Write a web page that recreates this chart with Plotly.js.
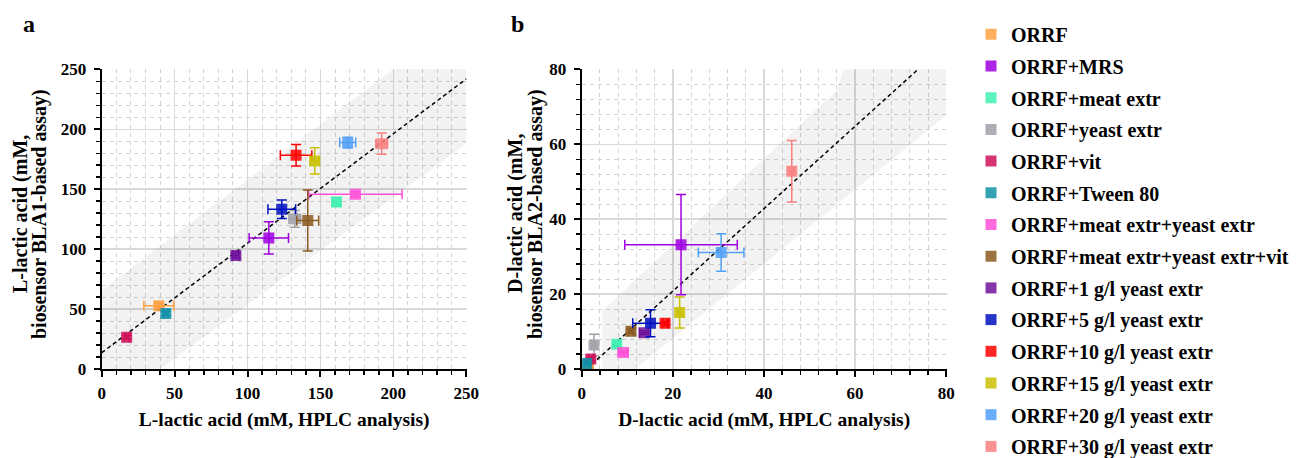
<!DOCTYPE html>
<html>
<head>
<meta charset="utf-8">
<script src="https://cdn.plot.ly/plotly-3.0.1.min.js"></script>
<style>html,body{margin:0;padding:0;background:#fff;}</style>
</head>
<body>
<div id="chart" style="width:1308px;height:458px;"></div>
<script>
// ---- data ----
const groups = ["ORRF","ORRF+MRS","ORRF+meat extr","ORRF+yeast extr","ORRF+vit","ORRF+Tween 80",
  "ORRF+meat extr+yeast extr","ORRF+meat extr+yeast extr+vit","ORRF+1 g/l yeast extr",
  "ORRF+5 g/l yeast extr","ORRF+10 g/l yeast extr","ORRF+15 g/l yeast extr",
  "ORRF+20 g/l yeast extr","ORRF+30 g/l yeast extr"];
const colors = ["#FFA040","#A000E0","#40F0B0","#A0A0A8","#D0105A","#1090A8",
  "#FF50D8","#8B5A1E","#70109A","#0010C0","#FF0000","#C8C000","#50A0F8","#F88080"];

// panel a: L-lactic acid
const aX    = [39.2, 114.6, 161.0, 132.4, 17.1, 44.0, 174.0, 141.3, 92.0, 123.5, 133.3, 146.1, 168.7, 192.0];
const aY    = [52.8, 109.4, 139.4, 125.3, 26.4, 46.4, 145.8, 123.9, 94.7, 133.3, 178.3, 173.6, 188.9, 188.0];
const aXerr = [10.3, 13.5, 2.5, 4.0, 1.5, 1.5, 32.0, 7.5, 2.0, 9.5, 10.8, 3.0, 5.5, 4.0];
const aYerr = [2.0, 13.5, 3.5, 7.0, 1.5, 2.0, 2.0, 25.5, 2.0, 7.8, 9.0, 11.0, 4.5, 8.8];

// panel b: D-lactic acid
const bX    = [1.5, 21.8, 7.7, 2.7, 2.0, 1.1, 9.1, 10.8, 13.7, 15.1, 18.3, 21.5, 30.6, 46.1];
const bY    = [0.5, 33.2, 6.6, 6.4, 2.7, 1.5, 4.4, 10.1, 9.7, 12.2, 12.2, 15.1, 31.1, 52.8];
const bXerr = [1.0, 12.35, 0.5, 0.5, 0.5, 0.5, 1.1, 0.5, 1.0, 3.9, 0.5, 0.5, 5.0, 0.5];
const bYerr = [0.5, 13.4, 0.5, 2.9, 0.5, 0.5, 0.5, 0.5, 0.5, 3.6, 0.5, 4.15, 5.0, 8.2];

// fit lines and bands
const aLineX = [0, 250];
const aLineY = [13.6, 242];
const aBandX = [0, 0, 199.7, 250, 250, 40];
const aBandY = [0, 65.8, 250, 250, 188, 0];
const bLineX = [1.1, 73.8];
const bLineY = [0, 80];
const bBandX = [4.5, 4.5, 56, 57.5, 80, 80, 11.7];
const bBandY = [0, 15.5, 74.5, 80, 80, 67.7, 0];

// axis titles
const aXTitle = "L-lactic acid (mM, HPLC analysis)";
const aYTitle = ["L-lactic acid (mM,", "biosensor BLA1-based assay)"];
const bXTitle = "D-lactic acid (mM, HPLC analysis)";
const bYTitle = ["D-lactic acid (mM,", "biosensor BLA2-based assay)"];

// ---- traces ----
const FONT = "Liberation Serif";
const traces = [];
traces.push({x: aBandX, y: aBandY, xaxis:'x', yaxis:'y', mode:'lines', fill:'toself',
  fillcolor:'rgba(0,0,0,0.05)', line:{width:0, color:'rgba(0,0,0,0)'}, showlegend:false, hoverinfo:'skip'});
traces.push({x: bBandX, y: bBandY, xaxis:'x2', yaxis:'y2', mode:'lines', fill:'toself',
  fillcolor:'rgba(0,0,0,0.05)', line:{width:0, color:'rgba(0,0,0,0)'}, showlegend:false, hoverinfo:'skip'});
traces.push({x: aLineX, y: aLineY, xaxis:'x', yaxis:'y', mode:'lines',
  line:{color:'#000', width:1.5, dash:'4px,3px'}, showlegend:false, hoverinfo:'skip'});
traces.push({x: bLineX, y: bLineY, xaxis:'x2', yaxis:'y2', mode:'lines',
  line:{color:'#000', width:1.5, dash:'4px,3px'}, showlegend:false, hoverinfo:'skip'});

groups.forEach((g, i) => {
  traces.push({mode:'markers', marker:{symbol:'square', size:11, color:colors[i], opacity:0.85},
    legendgroup:'g'+i, name:g, x:[aX[i]], y:[aY[i]], xaxis:'x', yaxis:'y', showlegend:true,
    error_x:{type:'data', array:[aXerr[i]], color:colors[i], thickness:1.5, width:5},
    error_y:{type:'data', array:[aYerr[i]], color:colors[i], thickness:1.5, width:5}});
});
groups.forEach((g, i) => {
  traces.push({mode:'markers', marker:{symbol:'square', size:11, color:colors[i], opacity:0.85},
    legendgroup:'g'+i, name:g, x:[bX[i]], y:[bY[i]], xaxis:'x2', yaxis:'y2', showlegend:false,
    error_x:{type:'data', array:[bXerr[i]], color:colors[i], thickness:1.5, width:5},
    error_y:{type:'data', array:[bYerr[i]], color:colors[i], thickness:1.5, width:5}});
});

function axis(domain, range, dtick, minorDtick, title, anchor, isY) {
  const ax = {
    domain: domain, range: range, anchor: anchor, dtick: dtick, tick0: 0,
    ticks:'outside', ticklen:6, tickwidth:2, tickcolor:'#000',
    showline:true, linewidth:2, linecolor:'#000', zeroline:false,
    showgrid:true, gridcolor:'#d9d9d9', gridwidth:1.5,
    minor:{dtick:minorDtick, tick0:0, ticks:'outside', ticklen:4, tickwidth:1.5, tickcolor:'#000',
      showgrid:true, gridcolor:'#d4d4d4', griddash:'4px,4px', gridwidth:1},
    tickfont:{family:FONT, size:17, color:'#000', weight:'bold'},
    ticklabelstandoff: isY ? 4 : 2,
    fixedrange:true
  };
  if (title) ax.title = {text:title, font:{family:FONT, size:19.5, color:'#000', weight:'bold'}, standoff: 10};
  return ax;
}

function yTitleAnn(lines, xs) {
  return lines.map((t, k) => ({text:t, xref:'paper', yref:'paper', x:xs[k]/1308, y:1-214/458,
    xanchor:'center', yanchor:'middle', textangle:-90, showarrow:false,
    font:{family:FONT, size:20, color:'#000', weight:'bold'}}));
}

const yDom = [(458-369)/458, (458-69)/458];
const layout = {
  width:1308, height:458,
  margin:{l:0, r:0, t:0, b:0, autoexpand:false},
  paper_bgcolor:'#fff', plot_bgcolor:'#fff',
  font:{family:FONT, color:'#000'},
  xaxis: axis([101.7/1308, 466.7/1308], [0,250.3], 50, 10, aXTitle, 'y', false),
  yaxis: axis(yDom, [0,250.3], 50, 10, null, 'x', true),
  xaxis2: axis([581.7/1308, 946.7/1308], [0,80.1], 20, 4, bXTitle, 'y2', false),
  yaxis2: axis(yDom, [0,80.1], 20, 4, null, 'x2', true),
  showlegend:true,
  legend:{x:971/1308, xanchor:'left', y:1-14.8/458, yanchor:'top', traceorder:'grouped', tracegroupgap:2.7,
    font:{family:FONT, size:20, color:'#000', weight:'bold'}, bgcolor:'rgba(0,0,0,0)', borderwidth:0},
  annotations:[
    {text:'a', xref:'paper', yref:'paper', x:29/1308, y:1-24/458, xanchor:'center', yanchor:'middle',
      showarrow:false, font:{family:FONT, size:24, color:'#000', weight:'bold'}},
    {text:'b', xref:'paper', yref:'paper', x:517/1308, y:1-24/458, xanchor:'center', yanchor:'middle',
      showarrow:false, font:{family:FONT, size:24, color:'#000', weight:'bold'}}
  ].concat(yTitleAnn(aYTitle, [20, 39])).concat(yTitleAnn(bYTitle, [515, 535]))
};

Plotly.newPlot('chart', traces, layout, {staticPlot:true, displayModeBar:false});
</script>
</body>
</html>
